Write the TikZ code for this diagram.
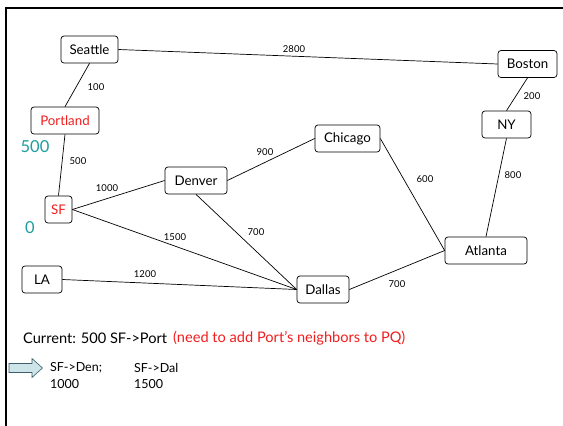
\documentclass[tikz,border=0pt]{standalone}
\usepackage{fontspec}
\setmainfont{Lato}
\definecolor{tealnum}{HTML}{1E9E9E}
\definecolor{redtxt}{HTML}{F21E1E}
\definecolor{arrowfill}{HTML}{CDE5E8}
\definecolor{arrowline}{HTML}{3E5E6A}
\begin{document}
\begin{tikzpicture}[x=1pt,y=-1pt,
  city/.style={draw,rounded corners=3pt,line width=0.7pt,minimum height=27pt,inner sep=0pt,font=\fontsize{13.3}{14}\selectfont},
  edge/.style={line width=0.7pt},
  wlabel/.style={font=\fontsize{9.5}{10}\selectfont,inner sep=0pt},
  numlabel/.style={text=tealnum,font=\fontsize{16.5}{17}\selectfont,inner sep=0pt},
  body/.style={font=\fontsize{14.6}{15}\selectfont,inner sep=0pt,anchor=west},
  small/.style={font=\fontsize{12.5}{13}\selectfont,inner sep=0pt,anchor=west},
  blockarrow/.style={draw=arrowline,fill=arrowfill,line width=0.6pt,line join=miter}]
\useasboundingbox (0,0) rectangle (563,426);
\fill[white] (0,0) rectangle (563,426);
\draw[line width=2pt] (6,426) -- (6,8) -- (563,8);

\node[city,minimum width=57pt] (seattle) at (89.5,49.5) {Seattle};
\node[city,minimum width=68pt,text=redtxt] (portland) at (65,120.5) {Portland};
\node[city,minimum width=27pt,text=redtxt] (sf) at (58.5,209.5) {SF};
\node[city,minimum width=62pt] (denver) at (196,180.5) {Denver};
\node[city,minimum width=65pt] (chicago) at (347.5,138.5) {Chicago};
\node[city,minimum width=59pt] (boston) at (527.5,64) {Boston};
\node[city,minimum width=49pt] (ny) at (506.5,124.5) {NY};
\node[city,minimum width=82pt] (atlanta) at (486,250.5) {Atlanta};
\node[city,minimum width=52pt] (dallas) at (323,289.5) {Dallas};
\node[city,minimum width=40pt] (la) at (42,279.5) {LA};

\draw[edge] (seattle.east) -- (boston.west);
\draw[edge] (seattle.south) -- (portland.north);
\draw[edge] (portland.south) -- (sf.north);
\draw[edge] (sf.east) -- (denver.west);
\draw[edge] (sf.east) -- (dallas.west);
\draw[edge] (denver.east) -- (chicago.west);
\draw[edge] (denver.south) -- (dallas.west);
\draw[edge] (la.east) -- (dallas.west);
\draw[edge] (chicago.east) -- (atlanta.west);
\draw[edge] (dallas.east) -- (atlanta.west);
\draw[edge] (boston.south) -- (ny.north);
\draw[edge] (ny.south) -- (atlanta.north);

\node[wlabel] (l2800) at (294,49) {2800};
\node[wlabel] (l100) at (96,87) {100};
\node[wlabel] (l500) at (78,161) {500};
\node[wlabel] (l1000) at (107,188) {1000};
\node[wlabel] (l900) at (265,152) {900};
\node[wlabel] (l1500) at (175,237) {1500};
\node[wlabel] (l700a) at (256,232) {700};
\node[wlabel] (l600) at (425,179) {600};
\node[wlabel] (l200) at (532,96) {200};
\node[wlabel] (l800) at (513,175) {800};
\node[wlabel] (l1200) at (145,274) {1200};
\node[wlabel] (l700b) at (397,284) {700};

\node[numlabel] (n500) at (35,147) {500};
\node[numlabel] (n0) at (30,228) {0};

\node[body] (current) at (23,338) {Current: 500 SF->Port};
\node[body,text=redtxt] (need) at (173,338) {(need to add Port's neighbors to PQ)};

\draw[blockarrow] (9,363.5) -- (32,363.5) -- (32,358.5) -- (42.5,368) -- (32,377.5) -- (32,372.5) -- (9,372.5) -- cycle;
\node[small] (sfden) at (50,368) {SF->Den;};
\node[small] (n1000) at (50,384) {1000};
\node[small] (sfdal) at (134,368) {SF->Dal};
\node[small] (n1500) at (134,384) {1500};
\end{tikzpicture}
\end{document}
